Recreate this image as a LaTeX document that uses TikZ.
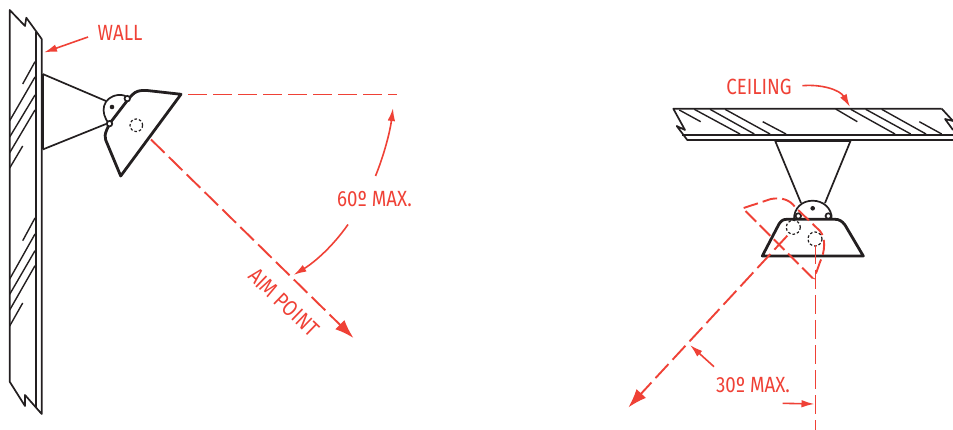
\documentclass[tikz,border=0pt]{standalone}
\usepackage{fontspec}
\usetikzlibrary{arrows.meta}
\setmainfont{Liberation Sans}
\newfontfamily\lab[FakeStretch=0.85]{Fira Sans}
\definecolor{rd}{HTML}{EF4136}
\definecolor{ink}{HTML}{231F20}
\tikzset{
  x=1pt,y=-1pt,
  mid line/.style={draw=ink,line width=1.7pt,line join=round},
  thick line/.style={draw=ink,line width=2.8pt,line join=round},
  hatch/.style={draw=ink,line width=1.4pt},
  aim/.style={draw=rd,line width=1.9pt,dash pattern=on 19pt off 6pt},
  ghost/.style={draw=rd,line width=1.9pt,dash pattern=on 15pt off 5pt},
  small dash/.style={line width=1.2pt,dash pattern=on 2.6pt off 2pt},
  lead/.style={draw=rd,line width=1.6pt,-{Latex[length=13pt,width=7.5pt]}},
  big tip/.style={-{Latex[length=19pt,width=13pt]}},
  label/.style={text=rd,font=\lab\fontsize{22}{22}\selectfont,inner sep=0pt},
  pivot/.style={draw=ink,line width=1.7pt,fill=white,circle,minimum size=5.5pt,inner sep=0pt},
  dot/.style={fill=ink,circle,minimum size=4.6pt,inner sep=0pt},
}
\begin{document}
\begin{tikzpicture}
\useasboundingbox (0,0) rectangle (953,430);
% ---- wall
\draw[mid line] (9.7,381.7) -- (9.7,10) -- (25,26) -- (26.3,17.7) -- (41.7,39) -- (41.7,414) -- (25,395) -- (25,406) -- cycle;
\draw[mid line] (36,32) -- (36,407);
\foreach \a/\b/\c/\d in {35/61.7/22.7/84,35/77/9.7/120.7,35/95/9.7/137,35/110/9.7/152.7,22.7/146/9.7/168,35/218/22.7/240.7,35/234/9.7/279,35/250.7/9.7/294.3,35/265.7/9.7/310,22.7/303/9.7/326}
  \draw[hatch] (\a,\b) -- (\c,\d);
% ---- wall bracket and fixture
\draw[thick line,line width=2.2pt] (42.7,74) -- (42.7,149.5);
\draw[mid line] (42.7,74) -- (106,101);
\draw[mid line] (42.7,149.5) -- (106,124);
\draw[mid line] (109.3,124) .. controls (99,112) and (103,97) .. (118,95) .. controls (122,94.5) and (126,95.5) .. (127.7,98.3);
\draw[thick line] (127.7,100) -- (109.3,124) -- (106.7,130) .. controls (105,134) and (104.5,137) .. (105.7,140) -- (120.7,176) -- (181,94.3) -- (147,90.5) .. controls (140,90) and (136,91) .. (132,95) -- cycle;
\node[pivot] (wp1) at (127.3,98.6) {};
\node[pivot] (wp2) at (109.5,123.7) {};
\node[dot] (wd) at (112,107) {};
\draw[ink,small dash] (136.3,125.3) circle (6.3);
% ---- wall reference lines
\coordinate (hs) at (188,94.5);
\coordinate (he) at (397,94.5);
\coordinate (as) at (151,139.5);
\coordinate (ae) at (353.5,338);
\draw[aim] (hs) -- (he);
\draw[aim,big tip] (as) -- (ae);
% ---- wall labels
\node[label] (wall) at (120,32.5) {WALL};
\node[label] (sixty) at (374.5,199) {60º MAX.};
\node[label,rotate=-44] (point) at (284,302.5) {AIM POINT};
\coordinate (wallt) at (44,52.5);
\coordinate (wallf) at (88,37);
\draw[lead] (wallf) -- (wallt);
\coordinate (s1) at (375.5,176);
\coordinate (s1t) at (393,108);
\draw[lead] (s1) .. controls (384,155) and (390,132) .. (s1t);
\coordinate (s2) at (348,224.5);
\coordinate (s2t) at (293.5,275);
\draw[lead] (s2) .. controls (333,246) and (315,262) .. (s2t);
% ---- ceiling
\draw[mid line] (941.7,108.7) -- (673.3,108.7) -- (685,130) -- (676.7,126) -- (687.3,140) -- (953,140);
\draw[mid line] (682,134.7) -- (953,134.7);
\draw[mid line] (941.7,108.7) -- (953,121) -- (945,119) -- (953,130);
\foreach \a/\b/\c/\d in {679.3/110/700.7/121.7,694.3/109.3/740/134,710/109.3/754.3/134,725/109.3/770/134,762.7/121.7/786/134,835.7/109/857.3/121.7,850.7/109.3/895/134,865.7/109.3/910.7/134,881.7/109.3/926/134,919.3/121.7/941.7/134}
  \draw[hatch] (\a,\b) -- (\c,\d);
% ---- ceiling bracket and fixture
\draw[thick line,line width=2.2pt] (775,140.5) -- (850.7,140.5);
\draw[mid line] (775,140.5) -- (801,203);
\draw[mid line] (850.7,140.5) -- (825,203);
\draw[mid line] (794,219) .. controls (794,208) and (802,200.7) .. (812.7,200.7) .. controls (823,200.7) and (832,208) .. (831.7,219);
\draw[mid line] (794,219.3) -- (832,219.3);
\draw[thick line] (762.3,256) -- (863.3,256) -- (845,225) .. controls (842,221) and (839,219.3) .. (835,219.3) -- (786.7,219.3) .. controls (783,219.3) and (781,221) .. (779,224) -- cycle;
\node[pivot] (cp1) at (798.3,216) {};
\node[pivot] (cp2) at (828.3,216) {};
\node[dot] (cd) at (812.7,208.3) {};
% ---- rotated ghost fixture
\draw[ghost] (812.7,278.3) -- (742.7,208.3) -- (771,199) .. controls (782,197) and (790,200) .. (795,207) -- (820,231) .. controls (826,238) and (825,252) .. (820,262) -- (814,279);
\draw[ink,small dash] (793.3,227.3) circle (7);
\draw[ink,small dash] (815,239) circle (7);
% ---- ceiling reference lines
\coordinate (vs) at (815.5,245);
\coordinate (ve) at (815.5,430);
\coordinate (bs) at (787.3,235.7);
\coordinate (be) at (628.3,407.5);
\draw[aim] (vs) -- (ve);
\draw[aim,big tip] (bs) -- (be);
% ---- ceiling labels
\node[label] (ceil) at (759,87) {CEILING};
\node[label] (thirty) at (753,385) {30º MAX.};
\coordinate (c1) at (802.3,85.7);
\coordinate (c1t) at (850,107);
\draw[lead] (c1) .. controls (822,84) and (840,90) .. (c1t);
\coordinate (t1) at (714,366.7);
\coordinate (t1t) at (690,345);
\draw[lead] (t1) -- (t1t);
\coordinate (t2) at (782.7,403.3);
\coordinate (t2t) at (814.5,404);
\draw[lead] (t2) -- (t2t);
\end{tikzpicture}
\end{document}
